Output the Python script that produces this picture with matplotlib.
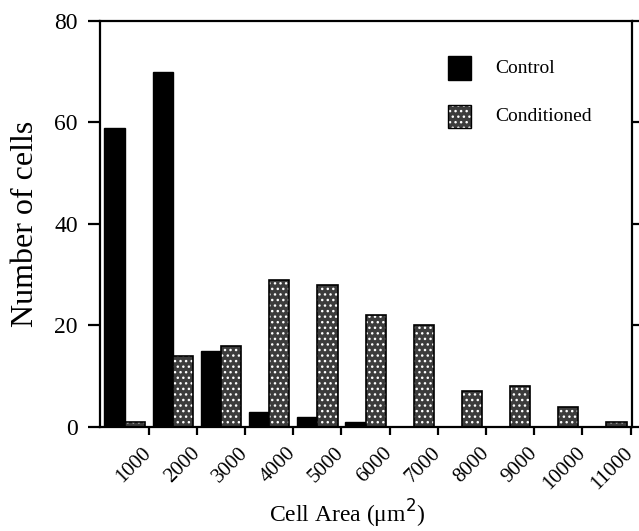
import numpy as np
import matplotlib.pyplot as plt
from matplotlib.patches import Rectangle

# cell counts per area bin
area_labels = ['1000', '2000', '3000', '4000', '5000', '6000',
               '7000', '8000', '9000', '10000', '11000']
control = [59, 70, 15, 3, 2, 1, 0, 0, 0, 0, 0]
conditioned = [1, 14, 16, 29, 28, 22, 20, 7, 8, 4, 1]

plt.rcParams['font.family'] = ['Liberation Serif', 'DejaVu Serif']
plt.rcParams['hatch.linewidth'] = 1.0

stipple = '#3c3c3c'

fig = plt.figure(figsize=(6.39, 5.31), dpi=100)
ax = fig.add_axes([0.1565, 0.196, 0.8325, 0.7645])

x = np.arange(len(area_labels))
w = 0.42

ax.bar(x - w / 2, control, width=w, color='black', edgecolor='black',
       linewidth=1.0, label='Control')
# stippled fill: dark face with white dots, then a black outline on top
ax.bar(x + w / 2, conditioned, width=w, color=stipple, edgecolor='white',
       hatch='...', linewidth=0)
ax.bar(x + w / 2, conditioned, width=w, fill=False, edgecolor='black',
       linewidth=1.2)

# legend drawn by hand as two swatches
sw = dict(transform=ax.transAxes, clip_on=False)
ax.add_patch(Rectangle((0.654, 0.855), 0.043, 0.058, facecolor='black',
                       edgecolor='black', **sw))
ax.add_patch(Rectangle((0.654, 0.736), 0.043, 0.058, facecolor=stipple,
                       edgecolor='white', hatch='...', linewidth=0, **sw))
ax.add_patch(Rectangle((0.654, 0.736), 0.043, 0.058, fill=False,
                       edgecolor='black', linewidth=1.0, **sw))
ax.text(0.743, 0.884, 'Control', transform=ax.transAxes, fontsize=14,
        va='center')
ax.text(0.743, 0.765, 'Conditioned', transform=ax.transAxes, fontsize=14,
        va='center')

ax.set_xlim(-0.51, 10.53)
ax.set_ylim(0, 80)
ax.set_yticks([0, 20, 40, 60, 80])
ax.set_xticks(x + 0.5)
ax.set_xticklabels(area_labels, rotation=45, ha='right', va='center',
                   rotation_mode='anchor')

for s in ax.spines.values():
    s.set_linewidth(1.6)

ax.tick_params(axis='y', direction='out', length=9, width=1.6,
               labelsize=17, right=True, pad=7)
ax.tick_params(axis='x', direction='out', length=6, width=1.6,
               labelsize=15, pad=11)

ax.set_ylabel('Number of cells', fontsize=23, labelpad=10)
ax.set_xlabel('Cell Area (μm$^2$)', fontsize=17)
ax.xaxis.set_label_coords(0.464, -0.174)

fig.savefig('out.png', dpi=100)
